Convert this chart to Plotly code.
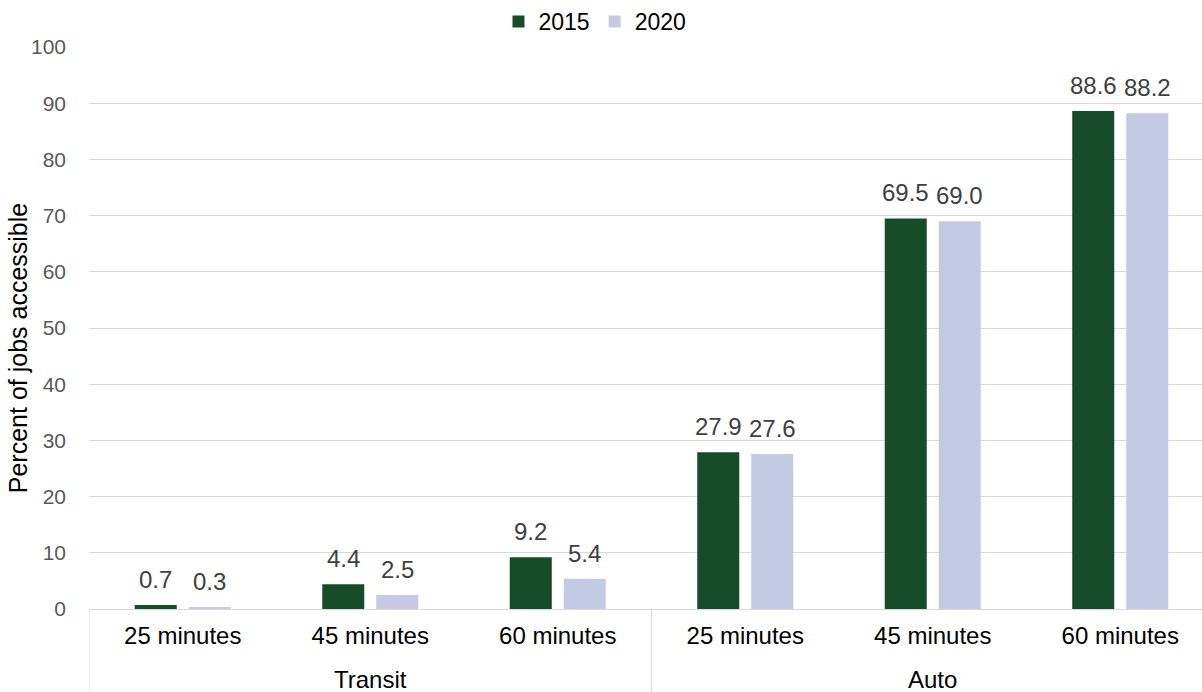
import plotly.graph_objects as go

modes = ["Transit", "Transit", "Transit", "Auto", "Auto", "Auto"]
times = ["25 minutes", "45 minutes", "60 minutes", "25 minutes", "45 minutes", "60 minutes"]
series_names = ["2015", "2020"]
values_2015 = [0.7, 4.4, 9.2, 27.9, 69.5, 88.6]
values_2020 = [0.3, 2.5, 5.4, 27.6, 69.0, 88.2]
colors = ["#164C28", "#C5CAE4"]
y_ticks = [0, 10, 20, 30, 40, 50, 60, 70, 80, 90, 100]
y_title = "Percent of jobs accessible"

FONT = "Liberation Sans, Arial, sans-serif"
GRID = "#D9D9D9"

idx = list(range(len(times)))

fig = go.Figure()
for name, vals, col in zip(series_names, [values_2015, values_2020], colors):
    fig.add_trace(go.Bar(
        name=name,
        x=idx,
        y=vals,
        customdata=[f"{m} – {t}" for m, t in zip(modes, times)],
        hovertemplate="%{customdata}<br>%{y:.1f}<extra>" + name + "</extra>",
        marker=dict(color=col, line=dict(width=0)),
    ))

# data labels above the bars, shifted to each bar of the group
shifts = [-27, 27]
for vals, dx in zip([values_2015, values_2020], shifts):
    for i, v in zip(idx, vals):
        fig.add_annotation(
            x=i, y=v, xref="x", yref="y",
            text=f"{v:.1f}", showarrow=False,
            xanchor="center", yanchor="bottom",
            xshift=dx, yshift=10,
            font=dict(family=FONT, size=24, color="#404040"),
        )

# group (second-level) labels and dividers
groups = []
for i, m in zip(idx, modes):
    if not groups or groups[-1][0] != m:
        groups.append([m, i, i])
    else:
        groups[-1][2] = i

bounds = set()
for m, a, b in groups:
    fig.add_annotation(
        x=(a + b) / 2, y=-0.1263, xref="x", yref="paper",
        text=m, showarrow=False, xanchor="center", yanchor="middle",
        font=dict(family=FONT, size=24, color="#000000"),
    )
    bounds.add(a - 0.5)
    bounds.add(b + 0.5)
for xb in sorted(bounds):
    fig.add_shape(
        type="line", xref="x", yref="paper",
        x0=xb, x1=xb, y0=0, y1=-0.16,
        line=dict(color=GRID, width=1),
    )

fig.add_annotation(
    text=y_title, textangle=-90, showarrow=False,
    xref="paper", yref="paper", x=-0.0638, y=0.464,
    xanchor="center", yanchor="middle",
    font=dict(family=FONT, size=25, color="#000000"),
)

fig.update_layout(
    width=1202, height=692,
    margin=dict(l=89, r=0, t=47, b=83),
    paper_bgcolor="white", plot_bgcolor="white",
    barmode="group", bargap=0.424, bargroupgap=0.222,
    font=dict(family=FONT, color="#000000"),
    legend=dict(orientation="h", x=0.495, xanchor="center", xref="container",
                y=1, yanchor="top", yref="container",
                font=dict(family=FONT, size=23, color="#000000"),
                itemwidth=30, traceorder="normal"),
    showlegend=True,
)
fig.update_xaxes(
    range=[-0.5, len(times) - 0.564],
    tickvals=idx, ticktext=times,
    tickfont=dict(family=FONT, size=24, color="#000000"),
    ticklabelstandoff=5,
    showline=True, linecolor=GRID, linewidth=1,
    ticks="", showgrid=False, zeroline=False, automargin=False,
)
fig.update_yaxes(
    range=[0, 100], tickvals=y_ticks,
    tickfont=dict(family=FONT, size=21, color="#595959"),
    showgrid=True, gridcolor=GRID, gridwidth=1,
    zeroline=False, showline=False, ticks="",
    ticklabelstandoff=22,
    automargin=False,
)

fig.write_html("out.html")
